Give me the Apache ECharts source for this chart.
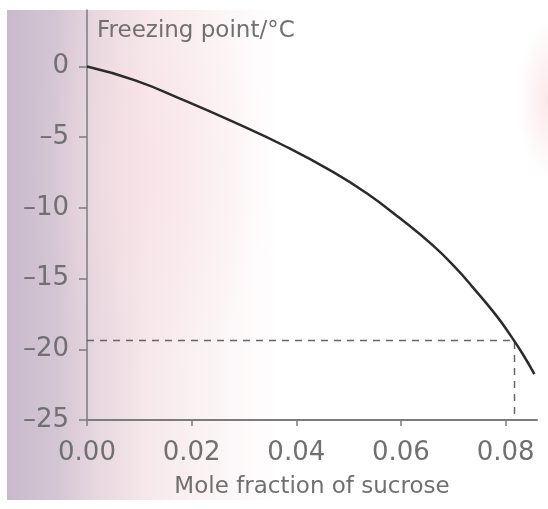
<!DOCTYPE html>
<html>
<head>
<meta charset="utf-8">
<script src="https://cdn.jsdelivr.net/npm/echarts@6/dist/echarts.min.js"></script>
<style>
  html, body { margin: 0; padding: 0; background: #fff; }
  /* faded photo look: lavender on the left, pink wash, white page */
  #paper {
    position: absolute;
    left: 7px; top: 10px; width: 541px; height: 490px;
    background:
      radial-gradient(ellipse 30px 80px at 541px 90px, rgba(245,205,208,0.45), rgba(255,255,255,0)),
      radial-gradient(ellipse 120px 200px at 140px 160px, rgba(250,222,228,0.5), rgba(255,255,255,0)),
      linear-gradient(to right, #c8bacb 0%, #d3c5d3 9%, #e8d8df 17%, #f6e8eb 26%, #fbf4f5 38%, #ffffff 50%, #ffffff 100%);
  }
  #chart { position: absolute; left: 0; top: 0; width: 548px; height: 509px; }
</style>
</head>
<body>
<div id="paper"></div>
<div id="chart"></div>
<script>
// mole fraction of sucrose vs freezing point
const moleFraction = [0, 0.0092, 0.0187, 0.0282, 0.0378, 0.047, 0.0534, 0.0597, 0.0661, 0.0706, 0.0737, 0.0782, 0.0811, 0.0833, 0.0855];
const freezingPoint = [0, -0.98, -2.41, -3.95, -5.62, -7.45, -8.95, -10.7, -12.65, -14.3, -15.6, -17.6, -19.1, -20.35, -21.75];

// dashed read-off guide
const guideX = [0, 0.0817, 0.0817];
const guideY = [-19.37, -19.37, -25];

const xTicks = [0, 0.02, 0.04, 0.06, 0.08];
const yTicks = [-25, -20, -15, -10, -5, 0];

const TEXT = '#707070';
const AXIS = '#7c7c7c';
const FONT = 'DejaVu Sans';

const chart = echarts.init(document.getElementById('chart'));

chart.setOption({
  backgroundColor: 'transparent',
  animation: false,
  title: {
    text: 'Freezing point/°C',
    left: 92,
    top: 15,
    textStyle: { color: TEXT, fontFamily: FONT, fontSize: 23, fontWeight: 'normal' },
  },
  grid: { left: 87, right: 11, top: 10, bottom: 89 },
  xAxis: {
    type: 'value',
    min: 0,
    max: 0.086,
    name: 'Mole fraction of sucrose',
    nameLocation: 'middle',
    nameGap: 56,
    nameTextStyle: { color: TEXT, fontFamily: FONT, fontSize: 23 },
    splitLine: { show: false },
    axisLine: { onZero: false, lineStyle: { color: AXIS, width: 2 } },
    axisTick: { customValues: xTicks, length: 6, lineStyle: { color: AXIS, width: 1.5 } },
    axisLabel: {
      customValues: xTicks,
      margin: 20,
      color: TEXT,
      fontFamily: FONT,
      fontSize: 26,
      formatter: (v) => v.toFixed(2),
    },
  },
  yAxis: {
    type: 'value',
    min: -25,
    max: 4,
    splitLine: { show: false },
    axisLine: { onZero: false, lineStyle: { color: AXIS, width: 1.5 } },
    axisTick: { customValues: yTicks, length: 8, lineStyle: { color: AXIS, width: 1.5 } },
    axisLabel: {
      customValues: yTicks,
      margin: 18,
      color: TEXT,
      fontFamily: FONT,
      fontSize: 26,
      formatter: (v) => (v < 0 ? '–' + Math.abs(v) : String(v)),
    },
  },
  series: [
    {
      type: 'line',
      data: moleFraction.map((x, i) => [x, freezingPoint[i]]),
      smooth: 0.5,
      showSymbol: false,
      lineStyle: { color: '#2b2b2b', width: 2.5 },
      z: 3,
    },
    {
      type: 'line',
      data: guideX.map((x, i) => [x, guideY[i]]),
      showSymbol: false,
      lineStyle: { color: '#666', width: 1.5, type: [7, 6] },
      z: 2,
    },
  ],
});
</script>
</body>
</html>
